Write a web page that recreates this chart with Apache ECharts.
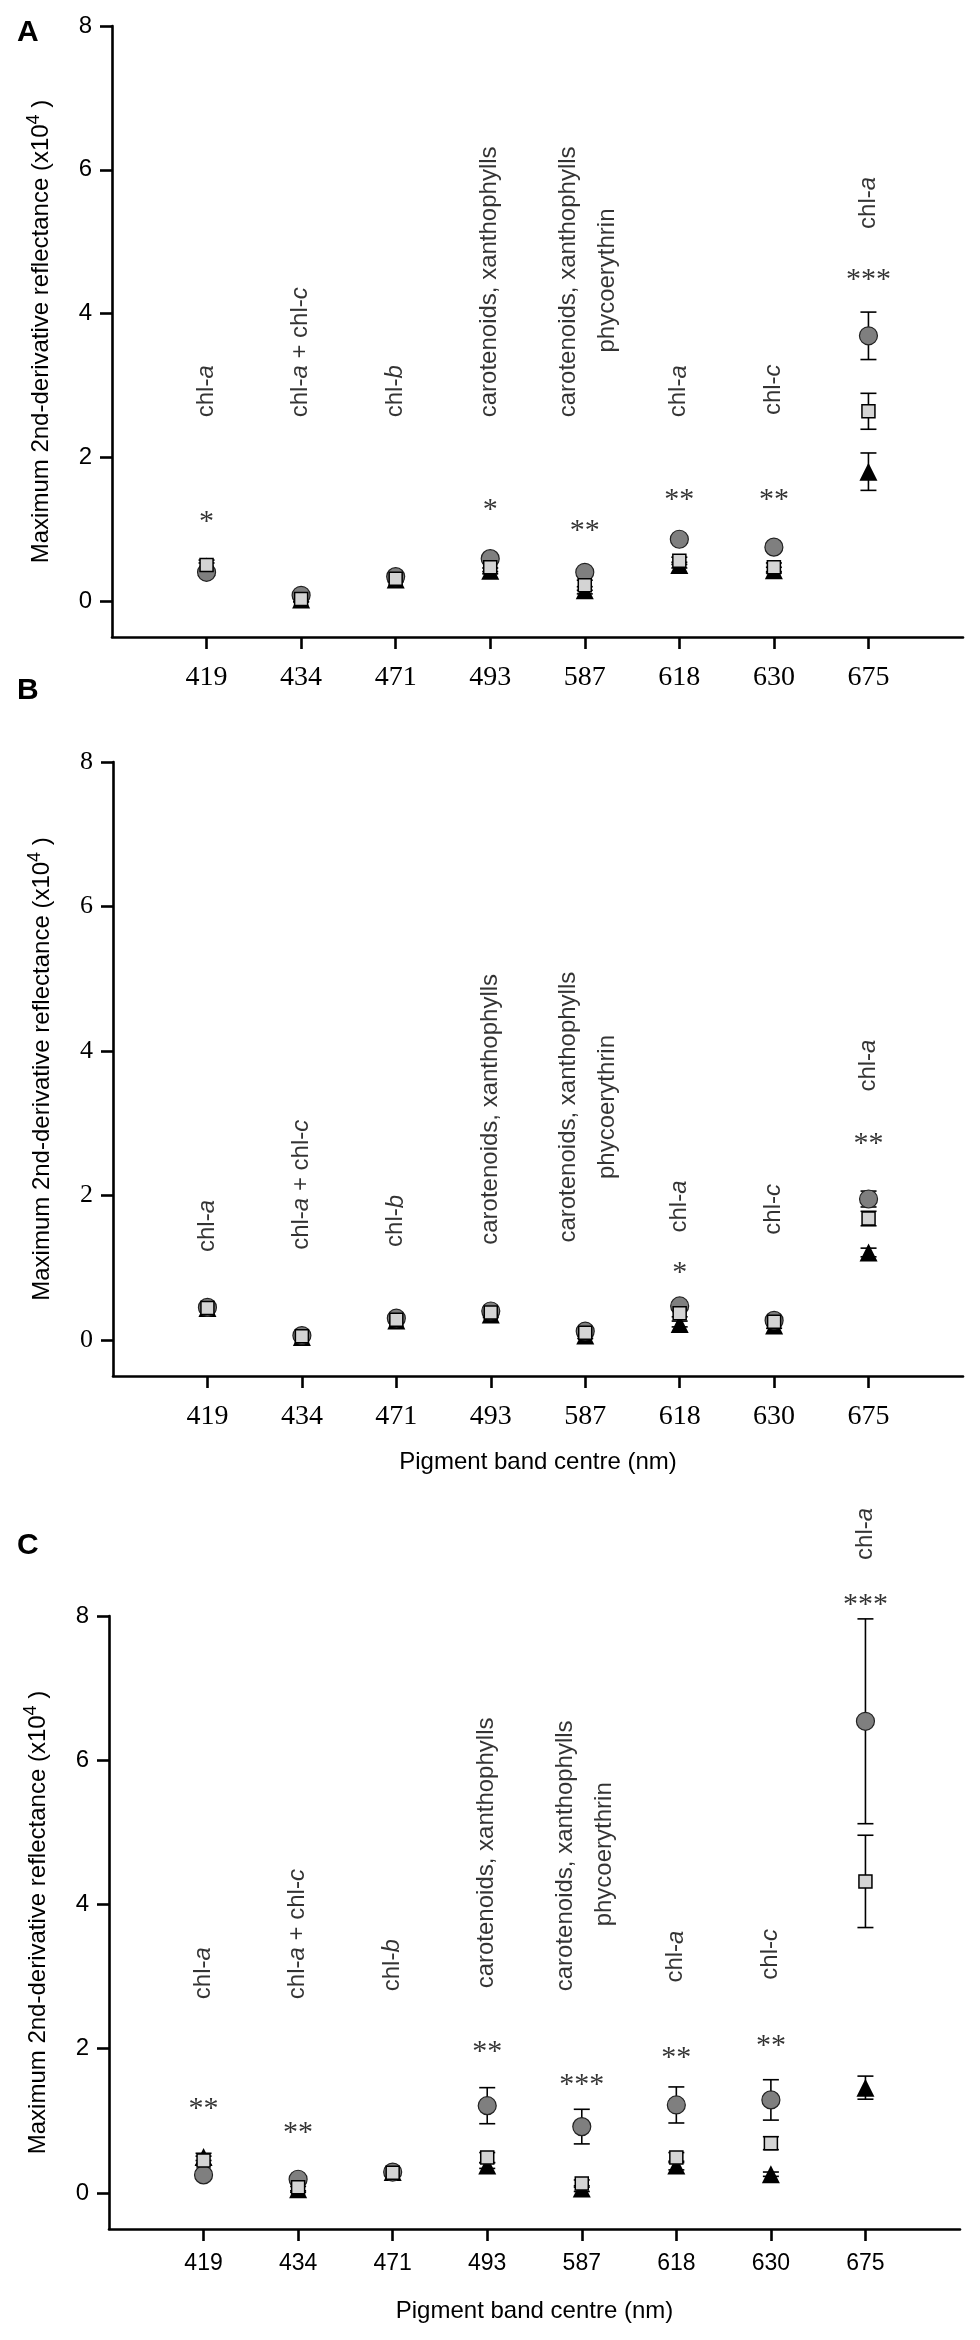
<!DOCTYPE html>
<html>
<head>
<meta charset="utf-8">
<script src="https://cdn.jsdelivr.net/npm/echarts@6/dist/echarts.min.js"></script>
<style>
  html, body { margin: 0; padding: 0; background: #fff; }
  #main { width: 980px; height: 2340px; }
</style>
</head>
<body>
<div id="main"></div>
<script>
// pigment band centres (nm)
var bands = ['419', '434', '471', '493', '587', '618', '630', '675'];
var pigments = ['chl-{i|a}', 'chl-{i|a} + chl-{i|c}', 'chl-{i|b}', 'carotenoids, xanthophylls',
  'carotenoids, xanthophylls', 'chl-{i|a}', 'chl-{i|c}', 'chl-{i|a}'];
// the 587 band carries a second text line, set a little to the right
var labelX = [1, 2, 3, 4, 4.83, 6, 7, 8];
var phycoText = 'phycoerythrin';
var phycoX = 5.24;

// panel A
var aCircle = [0.40, 0.08, 0.34, 0.59, 0.40, 0.86, 0.75, 3.69];
var aCircleErr = [0.05, 0.04, 0.04, 0.05, 0.05, 0.05, 0.06, 0.33];
var aSquare = [0.50, 0.03, 0.31, 0.47, 0.22, 0.56, 0.47, 2.64];
var aSquareErr = [0.07, 0.04, 0.04, 0.06, 0.07, 0.05, 0.06, 0.25];
var aTri = [0.48, 0.02, 0.30, 0.42, 0.15, 0.50, 0.43, 1.80];
var aTriErr = [0.05, 0.03, 0.03, 0.04, 0.05, 0.04, 0.04, 0.26];
var aLabelY = [2.55, 2.55, 2.55, 2.55, 2.55, 2.55, 2.58, 5.17];
var aPhycoY = 3.45;
var aStars = ['*', '', '', '*', '**', '**', '**', '***'];
var aStarY = [1.21, 0, 0, 1.37, 1.09, 1.52, 1.52, 4.57];

// panel B
var bCircle = [0.45, 0.06, 0.30, 0.40, 0.12, 0.47, 0.27, 1.95];
var bCircleErr = [0.04, 0.03, 0.04, 0.04, 0.04, 0.05, 0.04, 0.11];
var bSquare = [0.44, 0.05, 0.28, 0.38, 0.10, 0.37, 0.25, 1.68];
var bSquareErr = [0.05, 0.03, 0.04, 0.05, 0.05, 0.05, 0.05, 0.10];
var bTri = [0.44, 0.04, 0.27, 0.35, 0.06, 0.22, 0.20, 1.21];
var bTriErr = [0.04, 0.03, 0.03, 0.04, 0.04, 0.04, 0.04, 0.06];
var bLabelY = [1.21, 1.24, 1.28, 1.31, 1.34, 1.48, 1.45, 3.43];
var bPhycoY = 2.22;
var bStars = ['', '', '', '', '', '*', '', '**'];
var bStarY = [0, 0, 0, 0, 0, 1.04, 0, 2.82];

// panel C
var cCircle = [0.25, 0.19, 0.29, 1.21, 0.92, 1.22, 1.29, 6.54];
var cCircleErr = [0.05, 0.05, 0.05, 0.25, 0.24, 0.25, 0.28, 1.42];
var cSquare = [0.45, 0.08, 0.28, 0.49, 0.13, 0.49, 0.69, 4.32];
var cSquareErr = [0.06, 0.05, 0.04, 0.07, 0.05, 0.07, 0.09, 0.64];
var cTri = [0.50, 0.05, 0.29, 0.38, 0.06, 0.38, 0.26, 1.46];
var cTriErr = [0.05, 0.04, 0.04, 0.04, 0.04, 0.06, 0.03, 0.16];
var cLabelY = [2.68, 2.68, 2.79, 2.83, 2.79, 2.91, 2.95, 8.77];
var cPhycoY = 3.69;
var cStars = ['**', '**', '', '**', '***', '**', '**', '***'];
var cStarY = [1.27, 0.94, 0, 2.07, 1.60, 1.98, 2.15, 8.26];

var yTicks = [0, 2, 4, 6, 8];
var xTicks = [1, 2, 3, 4, 5, 6, 7, 8];

var SANS = 'Liberation Sans, Arial, sans-serif';
var SERIF = 'Liberation Serif, Times New Roman, serif';

var panels = [
  {c: aCircle, ce: aCircleErr, s: aSquare, se: aSquareErr, t: aTri, te: aTriErr,
   lab: aLabelY, phy: aPhycoY, st: aStars, sty: aStarY},
  {c: bCircle, ce: bCircleErr, s: bSquare, se: bSquareErr, t: bTri, te: bTriErr,
   lab: bLabelY, phy: bPhycoY, st: bStars, sty: bStarY},
  {c: cCircle, ce: cCircleErr, s: cSquare, se: cSquareErr, t: cTri, te: cTriErr,
   lab: cLabelY, phy: cPhycoY, st: cStars, sty: cStarY}
];

// layout of the three panels
var grids = [
  {left: 112, right: 17, top: 26, height: 611},
  {left: 113, right: 17, top: 762, height: 614},
  {left: 109, right: 20, top: 1616, height: 613}
];
var yFont = [SANS, SERIF, SANS];
var ySize = [24, 26, 24];
var xFont = [SERIF, SERIF, SANS];
var xSize = [28, 28, 23];
var xMargin = [27, 27, 23];
var xName = ['', 'Pigment band centre (nm)', 'Pigment band centre (nm)'];
var xNameGap = [0, 74, 70];

function errItem(params, api) {
  var x = api.value(0);
  var top = api.coord([x, api.value(2)]);
  var bot = api.coord([x, api.value(1)]);
  var w = 8;
  var st = {stroke: '#000', lineWidth: 1.6};
  return {
    type: 'group',
    children: [
      {type: 'line', shape: {x1: top[0], y1: top[1], x2: bot[0], y2: bot[1]}, style: st},
      {type: 'line', shape: {x1: top[0] - w, y1: top[1], x2: top[0] + w, y2: top[1]}, style: st},
      {type: 'line', shape: {x1: bot[0] - w, y1: bot[1], x2: bot[0] + w, y2: bot[1]}, style: st}
    ]
  };
}

function errData(vals, errs) {
  return vals.map(function(v, i) { return [i + 1, v - errs[i], v + errs[i]]; });
}
function pts(vals) {
  return vals.map(function(v, i) { return [i + 1, v]; });
}

var xAxes = [], yAxes = [], series = [];

panels.forEach(function(p, k) {
  xAxes.push({
    type: 'value', gridIndex: k, min: 0, max: 9,
    name: xName[k], nameLocation: 'middle', nameGap: xNameGap[k],
    nameTextStyle: {fontFamily: SANS, fontSize: 24, color: '#000'},
    axisLine: {onZero: false, lineStyle: {color: '#000', width: 2.6}},
    axisTick: {customValues: xTicks, length: 12, lineStyle: {color: '#000', width: 2.6}},
    axisLabel: {customValues: xTicks, margin: xMargin[k], color: '#000',
      fontFamily: xFont[k], fontSize: xSize[k],
      formatter: function(v) { return bands[v - 1] || ''; }},
    splitLine: {show: false}
  });
  yAxes.push({
    type: 'value', gridIndex: k, min: -0.5, max: 8,
    name: 'Maximum 2nd-derivative reflectance (x10{s|4} )',
    nameLocation: 'middle', nameRotate: 90, nameGap: 55,
    nameTextStyle: {fontFamily: SANS, fontSize: 24, color: '#000',
      rich: {s: {fontFamily: SANS, fontSize: 18, color: '#000', verticalAlign: 'bottom', padding: [0, 0, 14, 0]}}},
    axisLine: {onZero: false, lineStyle: {color: '#000', width: 2.6}},
    axisTick: {customValues: yTicks, length: 12, lineStyle: {color: '#000', width: 2.6}},
    axisLabel: {customValues: yTicks, margin: 20, color: '#000',
      fontFamily: yFont[k], fontSize: ySize[k]},
    splitLine: {show: false}
  });

  // error bars behind the markers
  [[p.t, p.te], [p.c, p.ce], [p.s, p.se]].forEach(function(g) {
    series.push({
      type: 'custom', xAxisIndex: k, yAxisIndex: k, z: 2, silent: true,
      renderItem: errItem, data: errData(g[0], g[1])
    });
  });
  series.push({
    type: 'scatter', xAxisIndex: k, yAxisIndex: k, z: 3, silent: true,
    symbol: 'triangle', symbolSize: 18,
    itemStyle: {color: '#000', opacity: 1}, data: pts(p.t)
  });
  series.push({
    type: 'scatter', xAxisIndex: k, yAxisIndex: k, z: 4, silent: true,
    symbol: 'circle', symbolSize: 18,
    itemStyle: {color: '#7f7f7f', borderColor: '#222', borderWidth: 1.2, opacity: 1}, data: pts(p.c)
  });
  series.push({
    type: 'scatter', xAxisIndex: k, yAxisIndex: k, z: 5, silent: true,
    symbol: 'rect', symbolSize: 13,
    itemStyle: {color: '#d4d4d4', borderColor: '#000', borderWidth: 1.5, opacity: 1}, data: pts(p.s)
  });

  // pigment labels (rotated)
  var labData = p.lab.map(function(y, i) { return {value: [labelX[i], y], name: pigments[i]}; });
  labData.push({value: [phycoX, p.phy], name: phycoText});
  series.push({
    type: 'scatter', xAxisIndex: k, yAxisIndex: k, z: 6, silent: true, clip: false,
    symbolSize: 1, itemStyle: {color: 'rgba(0,0,0,0)'},
    label: {
      show: true, position: [0, 0], rotate: 90, align: 'left', verticalAlign: 'middle',
      fontFamily: SANS, fontSize: 24, color: '#000',
      formatter: function(d) { return d.name; },
      rich: {i: {fontFamily: SANS, fontSize: 24, fontStyle: 'italic', color: '#000'}}
    },
    data: labData
  });

  // significance stars
  var starData = [];
  p.st.forEach(function(s, i) {
    if (s) starData.push({value: [i + 1, p.sty[i]], name: s});
  });
  series.push({
    type: 'scatter', xAxisIndex: k, yAxisIndex: k, z: 6, silent: true, clip: false,
    symbolSize: 1, itemStyle: {color: 'rgba(0,0,0,0)'},
    label: {
      show: true, position: 'inside', offset: [0, 8],
      fontFamily: SERIF, fontSize: 30, color: '#000',
      formatter: function(d) { return d.name; }
    },
    data: starData
  });
});

var chart = echarts.init(document.getElementById('main'), null, {renderer: 'canvas'});
chart.setOption({
  animation: false,
  backgroundColor: '#fff',
  grid: grids,
  xAxis: xAxes,
  yAxis: yAxes,
  graphic: [
    {type: 'text', left: 17, top: 18, style: {text: 'A', fontFamily: SANS, fontWeight: 'bold', fontSize: 30, fill: '#000'}},
    {type: 'text', left: 17, top: 676, style: {text: 'B', fontFamily: SANS, fontWeight: 'bold', fontSize: 30, fill: '#000'}},
    {type: 'text', left: 17, top: 1531, style: {text: 'C', fontFamily: SANS, fontWeight: 'bold', fontSize: 30, fill: '#000'}}
  ],
  series: series
});
</script>
</body>
</html>
